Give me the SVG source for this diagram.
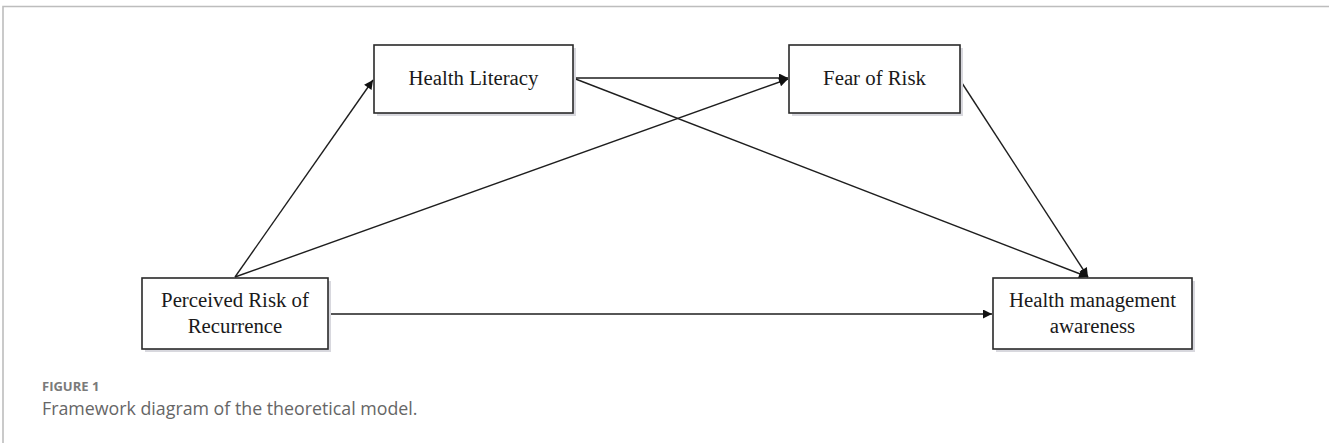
<svg xmlns="http://www.w3.org/2000/svg" width="1329" height="443" viewBox="0 0 1329 443">
  <style>
    .box { fill: #ffffff; stroke: #2a2a2a; stroke-width: 1.6; }
    .shadow { fill: #d8d8de; }
    .label { font-family: "Liberation Serif", "Times New Roman", serif; font-size: 20.8px; fill: #1a1a1a; text-anchor: middle; }
    .edge { stroke: #1e1e1e; stroke-width: 1.4; fill: none; marker-end: url(#arrow); }
    .frame { stroke: #bdbdbd; stroke-width: 1.6; fill: none; }
    .figno { font-family: "Open Sans", Lato, "Liberation Sans", sans-serif; font-size: 13px; font-weight: bold; fill: #7a7a7a; }
    .caption { font-family: "Open Sans", Lato, "Liberation Sans", sans-serif; font-size: 17.8px; fill: #666666; }
  </style>
  <defs>
    <marker id="arrow" viewBox="0 0 10 10" refX="10" refY="5" markerWidth="10" markerHeight="9" markerUnits="userSpaceOnUse" orient="auto">
      <path d="M0,0 L10,5 L0,10 z" fill="#111111"/>
    </marker>
  </defs>
  <rect width="1329" height="443" fill="#ffffff"/>
  <path class="frame" d="M3,443 L3,6.5 L1329,6.5"/>

  <g id="connectors">
    <line class="edge" x1="235" y1="277" x2="373" y2="80"/>
    <line class="edge" x1="235" y1="277" x2="788" y2="79"/>
    <line class="edge" x1="573" y1="78" x2="788" y2="78"/>
    <line class="edge" x1="573" y1="78" x2="1088" y2="277"/>
    <line class="edge" x1="960" y1="80" x2="1088" y2="277"/>
    <line class="edge" x1="328" y1="314" x2="992" y2="314"/>
  </g>

  <g id="health-literacy">
    <rect class="shadow" x="377" y="48" width="199" height="68"/>
    <rect class="box" x="374" y="45" width="199" height="68"/>
    <text class="label" x="473.5" y="85">Health Literacy</text>
  </g>

  <g id="fear-of-risk">
    <rect class="shadow" x="792" y="48" width="171" height="68"/>
    <rect class="box" x="789" y="45" width="171" height="68"/>
    <text class="label" x="874.5" y="85">Fear of Risk</text>
  </g>

  <g id="perceived-risk">
    <rect class="shadow" x="145" y="281" width="186" height="71"/>
    <rect class="box" x="142" y="278" width="186" height="71"/>
    <text class="label" x="235" y="307">Perceived Risk of</text>
    <text class="label" x="235" y="333">Recurrence</text>
  </g>

  <g id="health-management">
    <rect class="shadow" x="996" y="281" width="199" height="71"/>
    <rect class="box" x="993" y="278" width="199" height="71"/>
    <text class="label" x="1092.5" y="307">Health management</text>
    <text class="label" x="1092.5" y="333">awareness</text>
  </g>

  <g id="caption">
    <text class="figno" x="42" y="391">FIGURE 1</text>
    <text class="caption" x="42" y="415">Framework diagram of the theoretical model.</text>
  </g>
</svg>
